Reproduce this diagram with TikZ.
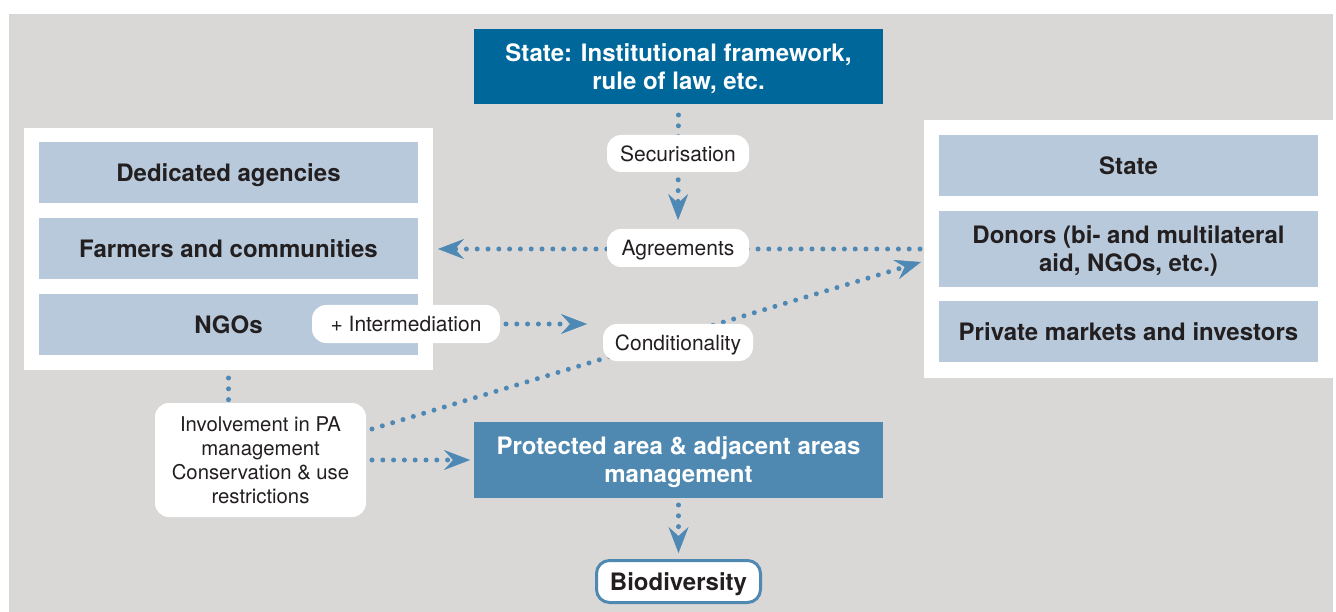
\documentclass[tikz,border=0pt]{standalone}
\usepackage{fontspec}
\setmainfont{TeX Gyre Heros}
\usetikzlibrary{arrows.meta}
\definecolor{bggrey}{HTML}{D9D8D6}
\definecolor{lightblue}{HTML}{B7C9DB}
\definecolor{darkblue}{HTML}{00679B}
\definecolor{midblue}{HTML}{4F88B1}
\definecolor{dotblue}{HTML}{4E88B4}
\definecolor{txt}{HTML}{231F20}
\pgfdeclarelayer{back}
\pgfdeclarelayer{front}
\pgfsetlayers{back,main,front}
\tikzset{
  wbox/.style={fill=white, inner sep=0pt, outer sep=0pt},
  lbox/.style={fill=lightblue, minimum width=379pt, inner sep=0pt, outer sep=0pt, text depth=0pt,
    font=\bfseries\fontsize{24}{28}\selectfont, text=txt, align=center},
  hbox/.style={minimum width=409pt, minimum height=76pt, inner sep=0pt, outer sep=0pt, text depth=0pt,
    font=\bfseries\fontsize{24}{28}\selectfont, text=white, align=center},
  pill/.style={fill=white, rounded corners=14pt, inner sep=0pt, outer sep=0pt, text depth=0pt,
    font=\fontsize{21}{24}\selectfont, text=txt, align=center},
  dotline/.style={draw=dotblue, line width=5pt, line cap=round, dash pattern=on 0pt off 10.8pt},
  arr/.style={-{Stealth[length=26pt,width=20pt,inset=9pt,line width=0.5pt,fill=dotblue]}},
}
\begin{document}
\begin{tikzpicture}[x=1pt,y=-1pt]
\useasboundingbox (0,0) rectangle (1336,612);
\begin{pgfonlayer}{back}
\fill[white] (0,0) rectangle (1336,612);
\fill[bggrey] (9,14) rectangle (1333,612);
\end{pgfonlayer}

% top box
\node[hbox, fill=darkblue, minimum height=75pt] (top) at (678.5,66.5) {State: Institutional framework,\\rule of law, etc.};

% left group
\node[wbox, minimum width=409pt, minimum height=242pt] (lw) at (228.5,249) {};
\node[lbox, minimum height=61pt] (ded) at (228.5,172.5) {Dedicated agencies};
\node[lbox, minimum height=61pt] (farm) at (228.5,248.5) {Farmers and communities};
\node[lbox, minimum height=61pt] (ngo) at (228.5,324.5) {NGOs};

% right group
\node[wbox, minimum width=409pt, minimum height=258pt] (rw) at (1128.5,249) {};
\node[lbox, minimum height=61pt] (state) at (1128.5,165.5) {State};
\node[lbox, minimum height=76pt] (donors) at (1128.5,249) {Donors (bi- and multilateral\\aid, NGOs, etc.)};
\node[lbox, minimum height=61pt] (private) at (1128.5,331.5) {Private markets and investors};

% protected area and biodiversity
\node[hbox, fill=midblue] (prot) at (678.5,460) {Protected area \& adjacent areas\\management};
\node[fill=white, draw=midblue, line width=3pt, rounded corners=13pt, minimum width=164pt, minimum height=42pt, inner sep=0pt,
  text depth=0pt, font=\bfseries\fontsize{24}{28}\selectfont, text=txt] (bio) at (678.5,581.5) {Biodiversity};

% pills (front layer)
\begin{pgfonlayer}{front}
\node[pill, minimum width=142pt, minimum height=37pt] (sec) at (678,153.5) {Securisation};
\node[pill, minimum width=142pt, minimum height=38pt] (agree) at (678,248) {Agreements};
\node[pill, minimum width=188pt, minimum height=38pt] (inter) at (406,324) {+ Intermediation};
\node[pill, minimum width=150pt, minimum height=37pt] (cond) at (678,342.5) {Conditionality};
\node[pill, minimum width=211pt, minimum height=114pt, text depth=, font=\fontsize{20.3}{24}\selectfont] (inv) at (260.5,460)
  {Involvement in PA\\management\\Conservation \& use\\restrictions};
\end{pgfonlayer}

\coordinate (iend) at (587,324);
\coordinate (dstart) at (372,429);
\coordinate (dend) at (921,262);

% connectors
\draw[dotline, arr, shorten <=11pt, shorten >=9pt] (top.south) -- (agree.north);
\draw[dotline, arr, shorten <=4pt, shorten >=5pt] (rw.west) -- (lw.east);
\draw[dotline, arr, shorten <=6pt] (inter.east) -- (iend);
\draw[dotline, arr] (dstart) -- (dend);
\draw[dotline, arr, shorten <=6pt, shorten >=4pt] (inv.east) -- (prot.west);
\draw[dotline, shorten <=8pt, shorten >=3pt] (lw.south) -- (lw.south |- inv.north);
\draw[dotline, arr, shorten <=7pt, shorten >=6pt] (prot.south) -- (bio.north);
\end{tikzpicture}
\end{document}
